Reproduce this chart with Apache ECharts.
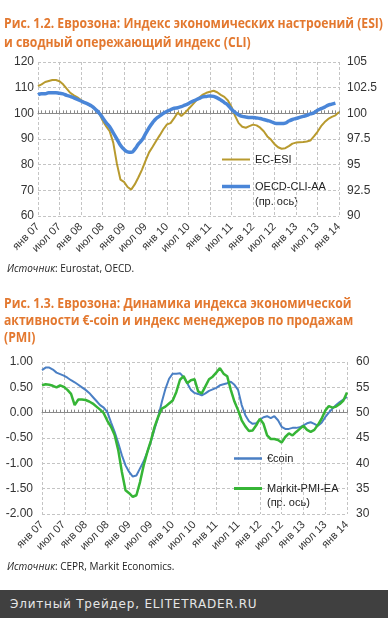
<!DOCTYPE html>
<html><head><meta charset="utf-8">
<script src="https://cdn.jsdelivr.net/npm/echarts@6/dist/echarts.min.js"></script>
<style>
html,body{margin:0;padding:0;background:#fff;}
#wrap{position:relative;width:388px;height:618px;overflow:hidden;background:#fff;}
#chart{position:absolute;left:0;top:0;width:388px;height:590px;}
.t{position:absolute;left:4px;white-space:nowrap;font-family:'Open Sans';font-weight:700;font-size:14px;line-height:18px;color:#E3782F;transform-origin:0 50%;}
.src{position:absolute;left:7px;white-space:nowrap;font-family:'Open Sans';font-size:10px;line-height:14px;color:#222;}
#footer{position:absolute;left:0;top:590px;width:388px;height:28px;background:#404040;color:#e6e6e6;font-family:'DejaVu Sans';font-size:12px;letter-spacing:0.8px;line-height:28px;padding-left:10px;box-sizing:border-box;}
</style></head>
<body>
<div id="wrap">
<div id="chart"></div>
<div class="t" style="top:14px">Рис. 1.2. Еврозона: Индекс экономических настроений (ESI)</div>
<div class="t" style="top:33px">и сводный опережающий индекс (CLI)</div>
<div class="src" style="top:261px"><i>Источник</i>: Eurostat, OECD.</div>
<div class="t" style="top:294px">Рис. 1.3. Еврозона: Динамика индекса экономической</div>
<div class="t" style="top:311px">активности €-coin и индекс менеджеров по продажам</div>
<div class="t" style="top:328px">(PMI)</div>
<div class="src" style="top:559px"><i>Источник</i>: CEPR, Markit Economics.</div>
<div id="footer">Элитный Трейдер, ELITETRADER.RU</div>
</div>
<script>
// ---- data ----
const monthNames = ['янв','фев','мар','апр','май','июн','июл','авг','сен','окт','ноя','дек'];
const years = ['07','08','09','10','11','12','13','14'];
const categories = [];
for (const y of years) for (const m of monthNames) { if (categories.length < 85) categories.push(m + ' ' + y); }

const esi = [110.6,111.3,112.2,112.6,113,113,112.5,111.3,109.6,108,
  107,106.2,105.2,104.2,103.5,102.8,101.8,100.2,97.3,95,
  93,88.6,80.5,74.2,73.3,71.3,70.3,72.3,75,78,
  81.5,84.8,87,89.3,91.5,93.8,95.7,96.2,98.1,100.3,
  99,100.2,101.7,103.2,104.8,106.2,107.3,108,108.4,108.8,
  108.2,107.2,106.4,105,102.5,99,96.2,94.8,94.4,95,
  95.6,95.3,94.4,93,91,89.8,88,86.8,86.2,86.4,
  87.2,88.2,88.6,88.7,88.8,89,89.4,91,92.8,95,
  96.6,97.8,98.6,99.2,100.5];
const cli = [101.8,101.9,101.9,102,102,102,101.95,101.9,101.75,101.65,
  101.5,101.35,101.2,101.05,100.9,100.7,100.4,100.05,99.6,99.1,
  98.7,98.1,97.5,96.9,96.5,96.25,96.2,96.5,97,97.4,
  98,98.6,99.1,99.5,99.75,100,100.2,100.35,100.5,100.55,
  100.65,100.8,100.95,101.15,101.3,101.45,101.6,101.65,101.7,101.65,
  101.5,101.3,101.05,100.8,100.4,100.1,99.85,99.7,99.65,99.6,
  99.6,99.55,99.5,99.4,99.3,99.2,99.05,99,99,99.05,
  99.25,99.4,99.5,99.6,99.7,99.8,99.95,100.05,100.3,100.45,
  100.6,100.8,100.9,101,null];
const ecoin = [0.84,0.89,0.89,0.85,0.79,0.76,0.73,0.69,0.64,0.60,
  0.55,0.50,0.45,0.39,0.31,0.23,0.15,0.10,0.01,-0.19,
  -0.38,-0.60,-0.84,-1.04,-1.17,-1.26,-1.24,-1.10,-0.96,-0.78,
  -0.57,-0.32,-0.09,0.21,0.47,0.67,0.77,0.77,0.78,0.70,
  0.58,0.45,0.39,0.37,0.34,0.38,0.43,0.46,0.49,0.54,
  0.56,0.58,0.61,0.55,0.45,0.15,-0.05,-0.17,-0.22,-0.21,
  -0.14,-0.09,-0.07,-0.11,-0.07,-0.15,-0.28,-0.32,-0.32,-0.30,
  -0.30,-0.29,-0.25,-0.21,-0.19,-0.22,-0.26,-0.20,-0.09,0.0,
  0.08,0.15,0.21,0.26,0.31];
const pmi = [55.4,55.6,55.5,55.3,55,55.4,55.1,54.5,53.7,51.5,
  52.6,52.6,52.5,52.2,51.8,51.2,50.6,49.9,48.4,47.2,
  45.6,42.6,38.3,34.7,34.1,33.4,33.7,36.3,39.6,42.2,
  44.5,47.2,49.2,50.8,51.2,51.8,52.4,54.1,56.5,57.2,
  55.8,56.4,56.6,54.2,53.8,55.2,56.6,57.1,57.9,58.8,
  57.7,57.2,54.5,52.2,50.5,48.5,47.3,46.4,46.5,47.5,
  48.8,47.8,45.5,44.8,44.8,44.6,44.1,45.2,45.9,45.5,
  46.2,46.8,47.4,46.6,46.2,46.6,47.6,48.8,50.4,51.3,
  51,51.2,51.7,52.4,54];

// ---- title scaling to mimic condensed font ----
(function(){
  const lines = document.querySelectorAll('.t');
  const w = lines[0].getBoundingClientRect().width;
  const s = 379 / w;
  lines.forEach(el => el.style.transform = 'scaleX(' + s + ')');
})();

const FONT = 'Liberation Sans';
const gridLine = {show:true, lineStyle:{color:'#c4c4c4', type:[3,2], width:1}};
const g1 = {left:38, top:62, width:301, height:154};
const g2 = {left:42, top:362, width:305, height:152};

function labelAxis(gi){
  return {type:'category', gridIndex:gi, data:categories, boundaryGap:false, position:'bottom',
    axisLine:{show:false}, axisTick:{show:false},
    axisLabel:{interval:5, rotate:45, margin:9, fontSize:11, color:'#333', fontFamily:FONT},
    splitLine:Object.assign({interval:5}, gridLine)};
}
function lineAxis(gi, h){
  return {type:'category', gridIndex:gi, data:categories, boundaryGap:false, position:'top', offset:-h/3,
    axisLine:{show:true, lineStyle:{color:'#8a8a8a', width:1}},
    axisTick:{show:true, interval:0, length:3, inside:false, lineStyle:{color:'#8a8a8a'}},
    axisLabel:{show:false}, splitLine:{show:false}};
}
function valAxis(gi, pos, min, max, interval, margin, fmt, split){
  return {type:'value', gridIndex:gi, position:pos, min:min, max:max, interval:interval,
    axisLine:{show:false}, axisTick:{show:false},
    axisLabel:{margin:margin, fontSize:12, color:'#333', fontFamily:FONT, formatter:fmt},
    splitLine: split ? gridLine : {show:false}};
}
function legendItem(name, left, top, h){
  return {data:[{name:name, icon:'rect'}], left:left, top:top, itemWidth:28, itemHeight:h, padding:0,
    selectedMode:false, textStyle:{fontSize:11, color:'#222', fontFamily:FONT}};
}

const chart = echarts.init(document.getElementById('chart'), null, {renderer:'canvas'});
chart.setOption({
  animation:false,
  grid:[g1, g2],
  xAxis:[labelAxis(0), lineAxis(0, g1.height), labelAxis(1), lineAxis(1, g2.height)],
  yAxis:[
    valAxis(0,'left',60,120,10,4,null,true),
    valAxis(0,'right',90,105,2.5,8,null,false),
    valAxis(1,'left',-2,1,0.5,9,v=>v.toFixed(2),true),
    valAxis(1,'right',30,60,5,9,null,false)
  ],
  legend:[
    legendItem('EC-ESI', 222, 154, 2),
    legendItem('OECD-CLI-AA', 222, 181, 3.5),
    legendItem('€coin', 234, 453, 2.5),
    legendItem('Markit-PMI-EA', 234, 483, 3)
  ],
  graphic:[
    {type:'text', left:255, top:196, style:{text:'(пр. ось)', fontSize:11, fill:'#222', fontFamily:FONT}},
    {type:'text', left:267, top:497, style:{text:'(пр. ось)', fontSize:11, fill:'#222', fontFamily:FONT}}
  ],
  series:[
    {name:'EC-ESI', type:'line', xAxisIndex:0, yAxisIndex:0, data:esi, symbol:'none', smooth:false,
      lineStyle:{color:'#B89A2E', width:2}, itemStyle:{color:'#B89A2E'}},
    {name:'OECD-CLI-AA', type:'line', xAxisIndex:0, yAxisIndex:1, data:cli, symbol:'none', smooth:true,
      lineStyle:{color:'#4A86D8', width:3.5}, itemStyle:{color:'#4A86D8'}},
    {name:'€coin', type:'line', xAxisIndex:2, yAxisIndex:2, data:ecoin, symbol:'none',
      lineStyle:{color:'#4A7FC4', width:2}, itemStyle:{color:'#4A7FC4'}},
    {name:'Markit-PMI-EA', type:'line', xAxisIndex:2, yAxisIndex:3, data:pmi, symbol:'none',
      lineStyle:{color:'#36B536', width:2.5}, itemStyle:{color:'#36B536'}}
  ]
});
</script>
</body></html>
